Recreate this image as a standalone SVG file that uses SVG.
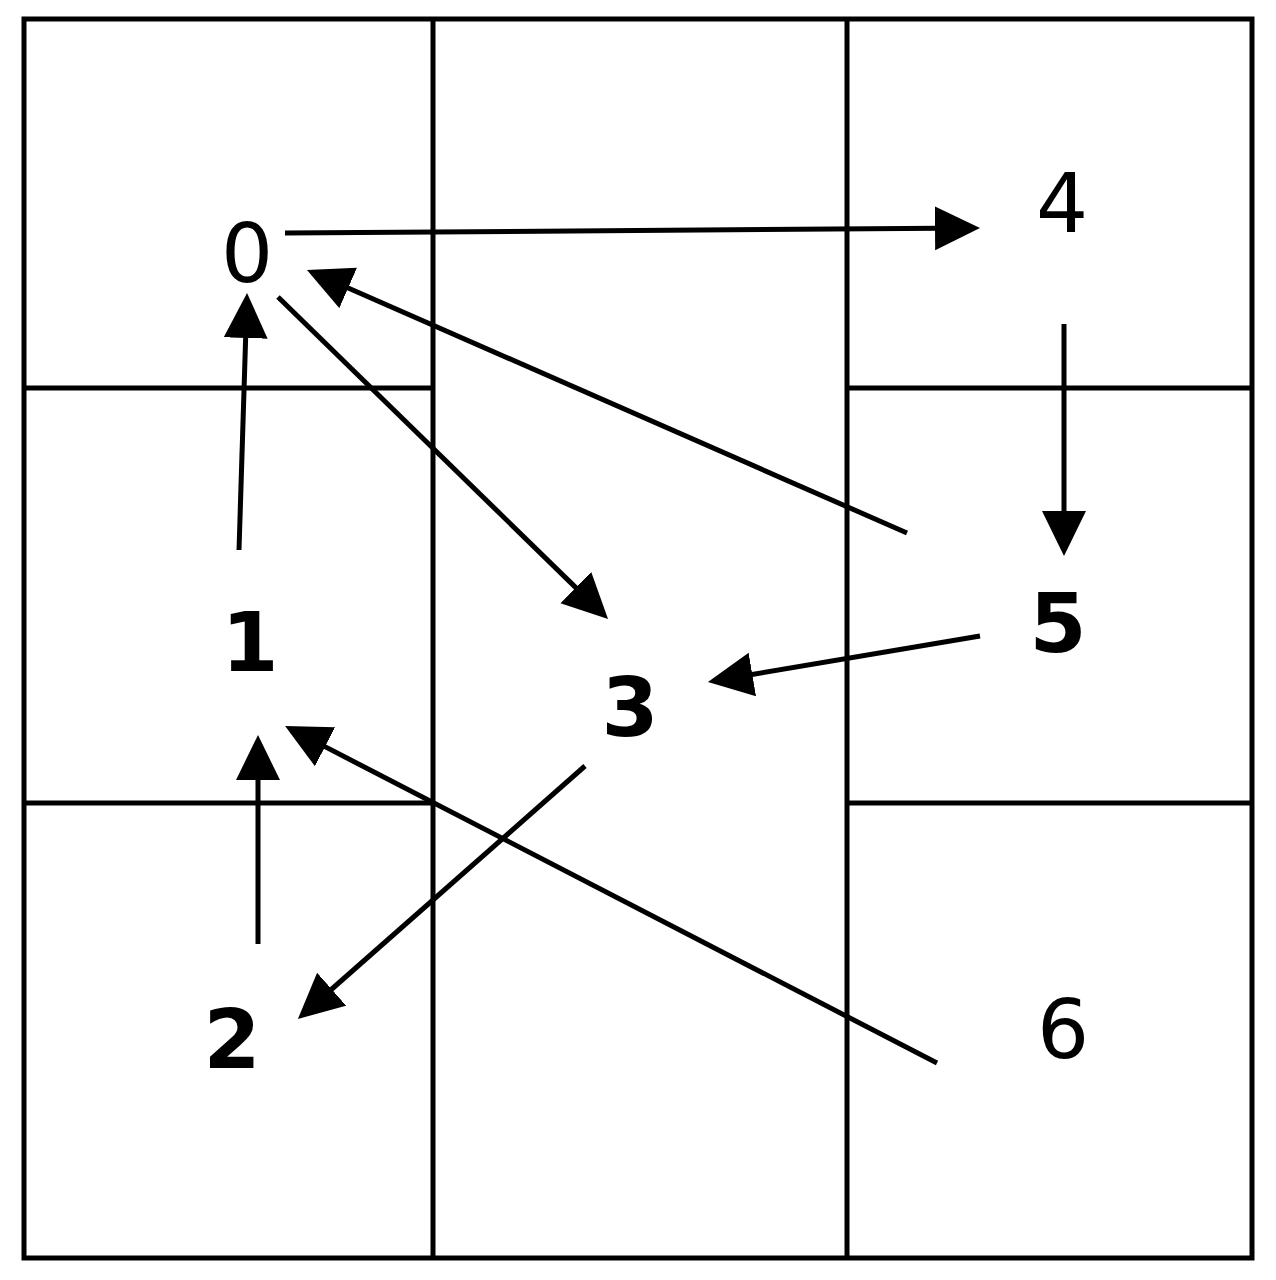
<svg xmlns="http://www.w3.org/2000/svg" width="1276" height="1280" viewBox="0 0 1276 1280">
<style>
.grid{stroke:#000;stroke-width:5;fill:none}
.edge{stroke:#000;stroke-width:5;fill:none;marker-end:url(#ah)}
.lbl{font-family:"DejaVu Sans","Liberation Sans",sans-serif;font-size:82px;text-anchor:middle;fill:#000}
.b{font-weight:bold}
</style>
<defs>
<marker id="ah" markerUnits="userSpaceOnUse" markerWidth="46" markerHeight="46" refX="5" refY="22" orient="auto" viewBox="0 0 46 46">
<path d="M0,0 L45,22 L0,44 z" fill="#000"/>
</marker>
</defs>
<rect width="1276" height="1280" fill="#fff"/>
<g id="grid">
<rect class="grid" x="24" y="19" width="1228" height="1239"/>
<line class="grid" x1="433" y1="19" x2="433" y2="1258"/>
<line class="grid" x1="847" y1="19" x2="847" y2="1258"/>
<line class="grid" x1="24" y1="388" x2="433" y2="388"/>
<line class="grid" x1="24" y1="803" x2="433" y2="803"/>
<line class="grid" x1="847" y1="388" x2="1252" y2="388"/>
<line class="grid" x1="847" y1="803" x2="1252" y2="803"/>
</g>
<g id="connectors">
<line class="edge" x1="285" y1="233" x2="940" y2="228.3"/>
<line class="edge" x1="1064" y1="324" x2="1064" y2="516"/>
<line class="edge" x1="907" y1="533" x2="343.6" y2="286"/>
<line class="edge" x1="278" y1="297" x2="579.4" y2="591.1"/>
<line class="edge" x1="980" y1="636" x2="747.4" y2="675.3"/>
<line class="edge" x1="585" y1="766" x2="327.9" y2="992.5"/>
<line class="edge" x1="258" y1="944" x2="258" y2="775"/>
<line class="edge" x1="937" y1="1063" x2="320.6" y2="744.4"/>
<line class="edge" x1="239" y1="550" x2="245.8" y2="333"/>
</g>
<g id="node0"><text class="lbl" x="247" y="282">0</text></g>
<g id="node1"><text class="lbl b" x="250" y="671">1</text></g>
<g id="node2"><text class="lbl b" x="232" y="1068">2</text></g>
<g id="node3"><text class="lbl b" x="630" y="736">3</text></g>
<g id="node4"><text class="lbl" x="1062" y="232">4</text></g>
<g id="node5"><text class="lbl b" x="1058" y="652">5</text></g>
<g id="node6"><text class="lbl" x="1063" y="1058">6</text></g>
</svg>
